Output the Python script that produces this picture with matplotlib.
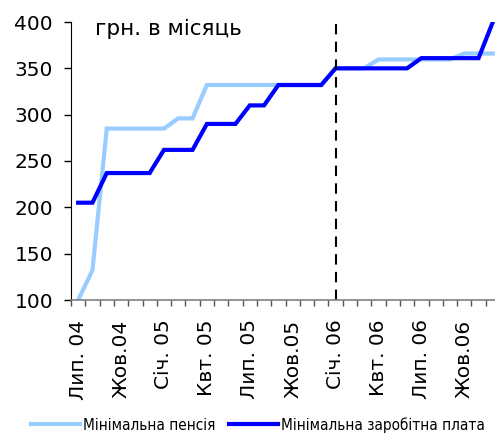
import matplotlib
matplotlib.use("Agg")
import matplotlib.pyplot as plt
from matplotlib import font_manager
import numpy as np

months = ["Лип. 04", "Сер. 04", "Вер. 04", "Жов.04", "Лис. 04", "Гру. 04",
          "Січ. 05", "Лют. 05", "Бер. 05", "Квт. 05", "Тра. 05", "Чер. 05",
          "Лип. 05", "Сер. 05", "Вер. 05", "Жов.05", "Лис. 05", "Гру. 05",
          "Січ. 06", "Лют. 06", "Бер. 06", "Квт. 06", "Тра. 06", "Чер. 06",
          "Лип. 06", "Сер. 06", "Вер. 06", "Жов.06", "Лис. 06", "Гру. 06"]
pension = [100, 132, 285, 285, 285, 285, 285, 296, 296, 332, 332, 332, 332, 332, 332,
           332, 332, 332, 350, 350, 350, 359.6, 359.6, 359.6, 359.6, 359.6, 359.6,
           366, 366, 366]
wage = [205, 205, 237, 237, 237, 237, 262, 262, 262, 290, 290, 290, 310, 310, 332,
        332, 332, 332, 350, 350, 350, 350, 350, 350, 361, 361, 361, 361, 361, 400]
label_every = 3
forecast_start = "Січ. 06"
series_names = ["Мінімальна пенсія", "Мінімальна заробітна плата"]

plt.rcParams['font.family'] = ['DejaVu Sans']

# narrow font for the legend if available
legend_family = 'DejaVu Sans'
legend_stretch = 'condensed'
legend_size = 11
try:
    font_manager.findfont(font_manager.FontProperties(family='Liberation Sans Narrow'),
                          fallback_to_default=False)
    legend_family = 'Liberation Sans Narrow'
    legend_stretch = 'normal'
except Exception:
    pass

fig = plt.figure(figsize=(4.95, 4.34), dpi=100)
ax = fig.add_axes([71/495, 1 - 300/434, (500 - 71)/495, (300 - 22)/434])

x = np.arange(len(months))
l1, = ax.plot(x, pension, color="#99CCFF", lw=3.0, solid_joinstyle="miter")
l2, = ax.plot(x, wage, color="#0000FF", lw=3.0, solid_joinstyle="miter")

fi = months.index(forecast_start)
ax.axvline(fi, color="black", lw=1.5, ls=(0, (5, 3.5)))

ax.set_xlim(-0.5, len(months) - 0.5)
ax.set_ylim(100, 400)
ax.set_yticks(np.arange(100, 401, 50))
ax.tick_params(axis="y", labelsize=14.5, length=5, width=1, direction="out", pad=8)

ax.set_xticks(np.arange(-0.5, len(months), 1), minor=True)
ax.set_xticks(x[::label_every])
ax.set_xticklabels(months[::label_every], rotation=90, fontsize=14.5)
ax.tick_params(axis="x", which="major", length=0, pad=14)
ax.tick_params(axis="x", which="minor", length=4, width=1, color="#555555", direction="out")

for s in ["top", "right"]:
    ax.spines[s].set_visible(False)
ax.spines["left"].set_color("black")
ax.spines["bottom"].set_color("#808080")
ax.spines["bottom"].set_linewidth(1.2)

ax.text(95/495, 1 - 28.5/434, "грн. в місяць", transform=fig.transFigure, fontsize=15.5,
        ha="left", va="center")

leg = fig.legend([l1, l2], series_names, loc="center", bbox_to_anchor=(258/495, 1 - 425/434),
                 ncol=2, frameon=False, handlelength=3.2, handletextpad=0.2,
                 columnspacing=0.9,
                 prop=font_manager.FontProperties(family=legend_family, size=legend_size,
                                                  stretch=legend_stretch))

fig.savefig("out.png", dpi=100)
